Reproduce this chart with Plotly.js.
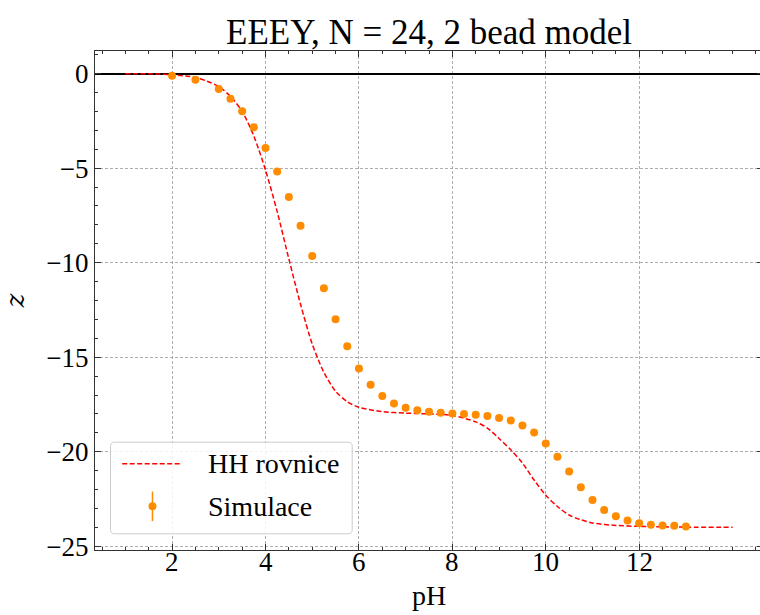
<!DOCTYPE html>
<html>
<head>
<meta charset="utf-8">
<script src="https://cdn.plot.ly/plotly-3.0.1.min.js"></script>
<style>
html,body{margin:0;padding:0;overflow:hidden;background:#fff;}
#chart{width:770px;height:615px;}
</style>
</head>
<body>
<div id="chart"></div>
<script>
// Simulation data (pH, charge z)
const simPH = [2.0, 2.5, 3.0, 3.25, 3.5, 3.75, 4.0, 4.25, 4.5, 4.75,
  5.0, 5.25, 5.5, 5.75, 6.0, 6.25, 6.5,
  6.75, 7.0, 7.25, 7.5, 7.75, 8.0, 8.25, 8.5, 8.75, 9.0, 9.25, 9.5, 9.75,
  10.0, 10.25, 10.5, 10.75, 11.0, 11.25, 11.5, 11.75, 12.0, 12.25, 12.5, 12.75, 13.0];
const simZ = [-0.11, -0.32, -0.81, -1.32, -1.99, -2.84, -3.93, -5.17, -6.53, -8.04,
  -9.64, -11.35, -12.99, -14.42, -15.60, -16.46, -17.05,
  -17.45, -17.68, -17.81, -17.89, -17.94, -17.98, -18.00, -18.05, -18.11, -18.21, -18.35, -18.61, -18.98,
  -19.57, -20.27, -21.05, -21.88, -22.55, -23.08, -23.41, -23.64, -23.78, -23.87, -23.90, -23.92, -23.96];

// Henderson-Hasselbalch curve
const hhPH = [1.0, 1.5, 2.0, 2.5, 2.75, 3.0, 3.25, 3.5, 3.75, 4.0, 4.25, 4.5, 4.75,
  5.0, 5.25, 5.5, 5.75, 6.0, 6.5, 7.0, 7.5, 8.0, 8.5, 8.75, 9.0, 9.25, 9.5, 9.75,
  10.0, 10.25, 10.5, 10.75, 11.0, 11.5, 12.0, 13.0, 14.0];
const hhZ = [0.0, -0.01, -0.05, -0.2, -0.4, -0.68, -1.2, -2.0, -3.3, -5.1, -7.3, -9.8, -12.2,
  -14.3, -15.8, -16.8, -17.35, -17.65, -17.88, -17.96, -18.0, -18.08, -18.42, -18.75, -19.3, -19.9, -20.6, -21.5,
  -22.3, -22.9, -23.35, -23.6, -23.77, -23.9, -23.95, -23.99, -24.0];

const xTickVals = [2, 4, 6, 8, 10, 12];
const yTickVals = [0, -5, -10, -15, -20, -25];

const titleText = "EEEY, N = 24, 2 bead model";
const legendLabels = ["HH rovnice", "Simulace"];

const FONT = "Liberation Serif, Times New Roman, serif";
const RED = "#ff0000";
const ORANGE = "#ff8c00";

const traces = [
  {
    x: hhPH, y: hhZ, type: "scatter", mode: "lines",
    line: {color: RED, width: 1.5, dash: "5px,2.5px", shape: "spline", smoothing: 0.8},
    showlegend: false, hoverinfo: "skip"
  },
  {
    x: simPH, y: simZ, type: "scatter", mode: "markers",
    marker: {color: ORANGE, size: 8},
    showlegend: false, hoverinfo: "skip"
  }
];

// legend geometry in paper coords
const lx0 = 0.0232, lx1 = 0.385, ly0 = 0.0325, ly1 = 0.216;
const rx = 0.006, ry = 0.008;
const boxPath = `M ${lx0+rx},${ly0} L ${lx1-rx},${ly0} Q ${lx1},${ly0} ${lx1},${ly0+ry} L ${lx1},${ly1-ry} Q ${lx1},${ly1} ${lx1-rx},${ly1} L ${lx0+rx},${ly1} Q ${lx0},${ly1} ${lx0},${ly1-ry} L ${lx0},${ly0+ry} Q ${lx0},${ly0} ${lx0+rx},${ly0} Z`;

const shapes = [
  {type: "path", xref: "paper", yref: "paper", path: boxPath, layer: "above",
   fillcolor: "rgba(255,255,255,0.85)", line: {color: "#cccccc", width: 1}},
  {type: "line", xref: "paper", yref: "paper", x0: 0.0407, x1: 0.1304, y0: 0.1727, y1: 0.1727,
   layer: "above", line: {color: RED, width: 1.5, dash: "5px,2.5px"}},
  {type: "line", xref: "paper", yref: "paper", x0: 0.086, x1: 0.086, y0: 0.0577, y1: 0.1172,
   layer: "above", line: {color: ORANGE, width: 1.5}},
  {type: "circle", xref: "paper", yref: "paper", xsizemode: "pixel", ysizemode: "pixel",
   xanchor: 0.086, yanchor: 0.0877, x0: -4, x1: 4, y0: -4, y1: 4,
   layer: "above", fillcolor: ORANGE, line: {color: ORANGE, width: 0}}
];

const annotations = [
  {xref: "paper", yref: "paper", x: 0.1667, y: 0.1727, xanchor: "left", yanchor: "middle",
   text: legendLabels[0], showarrow: false, font: {family: FONT, size: 28, color: "#000"}},
  {xref: "paper", yref: "paper", x: 0.1667, y: 0.0877, xanchor: "left", yanchor: "middle",
   text: legendLabels[1], showarrow: false, font: {family: FONT, size: 28, color: "#000"}}
];
// x tick labels, placed on the x axis scale
xTickVals.forEach(v => annotations.push({
  xref: "x", yref: "paper", x: v, y: 0, xanchor: "center", yanchor: "top", yshift: 5,
  text: String(v), showarrow: false, font: {family: FONT, size: 27, color: "#000"}
}));

const axisCommon = {
  showline: true, linecolor: "#333", linewidth: 1.2, mirror: "allticks",
  ticks: "inside", ticklen: 6, tickwidth: 1, tickcolor: "#333",
  showgrid: true, gridcolor: "#999999", gridwidth: 0.8, griddash: "3px,2px",
  tickfont: {family: FONT, size: 27, color: "#000"},
  fixedrange: true
};

const layout = {
  width: 770, height: 615,
  margin: {l: 94.5, r: 6.8, t: 51.3, b: 64.5},
  paper_bgcolor: "#fff", plot_bgcolor: "#fff",
  font: {family: FONT, color: "#000"},
  title: {text: titleText, font: {family: FONT, size: 35, color: "#000"},
          xref: "paper", x: 0.5, xanchor: "center", yref: "container", y: 0.948, yanchor: "middle"},
  xaxis: Object.assign({}, axisCommon, {
    range: [0.35, 14.65], tickmode: "array", tickvals: xTickVals, showticklabels: false,
    zeroline: false,
    minor: {dtick: 0.5, tick0: 0, ticks: "inside", ticklen: 3, tickcolor: "#333", showgrid: false},
    title: {text: "pH", font: {family: FONT, size: 28, color: "#000"}, standoff: 35}
  }),
  yaxis: Object.assign({}, axisCommon, {
    range: [-25.2, 1.2], tickmode: "array", tickvals: yTickVals,
    zeroline: true, zerolinecolor: "#000", zerolinewidth: 1.8,
    minor: {dtick: 1, tick0: 0, ticks: "inside", ticklen: 3, tickcolor: "#333", showgrid: false},
    title: {text: "<i>z</i>", font: {family: "DejaVu Serif, serif", size: 26, color: "#000", style: "italic"}, standoff: 18}
  }),
  shapes: shapes,
  annotations: annotations,
  showlegend: false
};

Plotly.newPlot("chart", traces, layout, {staticPlot: true, displayModeBar: false});
</script>
</body>
</html>
